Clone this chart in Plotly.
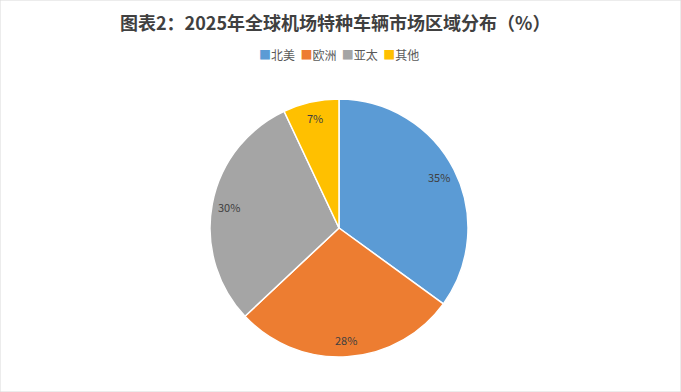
import math
import plotly.graph_objects as go

regions = ["北美", "欧洲", "亚太", "其他"]
shares = [35, 28, 30, 7]
colors = ["#5B9BD5", "#ED7D31", "#A5A5A5", "#FFC000"]
title_text = "图表2：2025年全球机场特种车辆市场区域分布（%）"

W, H = 681, 392
cx, cy, r = 339, 228, 129  # pixel geometry of pie
FONT = "Noto Sans CJK SC"

fig = go.Figure(go.Pie(
    labels=regions, values=shares, sort=False, direction="clockwise", rotation=0,
    marker=dict(colors=colors, line=dict(color="white", width=1.5)),
    textinfo="none", hoverinfo="label+percent", showlegend=False,
    domain=dict(x=[(cx - r) / W, (cx + r) / W], y=[(H - cy - r) / H, (H - cy + r) / H]),
))

# data labels near outer edge (inside end)
total = sum(shares)
cum = 0
for v in shares:
    mid = (cum + v / 2) / total * 2 * math.pi
    cum += v
    rr = 0.87 * r
    px = cx + rr * math.sin(mid)
    py = cy - rr * math.cos(mid)
    fig.add_annotation(x=px / W, y=1 - py / H, xref="paper", yref="paper",
                       xanchor="center", yanchor="middle",
                       text=f"{v}%", showarrow=False,
                       font=dict(family=FONT, size=11, color="#404040"))

fig.add_annotation(x=335 / W, y=1 - 22 / H, xref="paper", yref="paper", text=f"<b>{title_text}</b>",
                   xanchor="center", yanchor="middle",
                   showarrow=False, font=dict(family=FONT, size=18, color="#404040"))

# compact legend
legend_html = "  ".join(
    f"<span style='color:{c}'>■</span>{name}" for name, c in zip(regions, colors)
)
fig.add_annotation(x=339 / W, y=1 - 55 / H, xref="paper", yref="paper", text=legend_html,
                   xanchor="center", yanchor="middle", showarrow=False,
                   font=dict(family=FONT, size=12, color="#595959"))

fig.add_shape(type="rect", xref="paper", yref="paper", x0=0, y0=0, x1=1, y1=1,
              line=dict(color="#D9D9D9", width=1))

fig.update_layout(
    width=W, height=H, margin=dict(l=0, r=0, t=0, b=0),
    paper_bgcolor="white", plot_bgcolor="white",
    showlegend=False,
)

fig.write_html("out.html")
